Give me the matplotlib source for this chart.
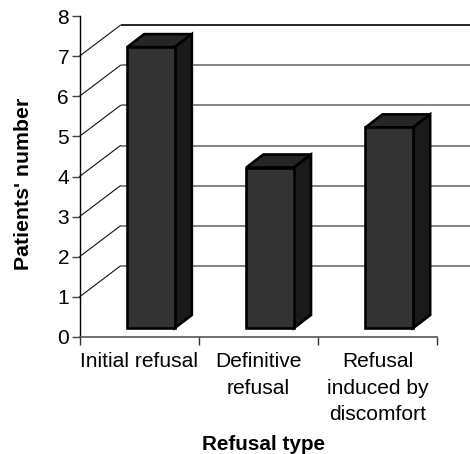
import matplotlib
matplotlib.use("Agg")
import matplotlib.pyplot as plt
from matplotlib.patches import Polygon
from matplotlib.transforms import ScaledTranslation

categories = ["Initial refusal", "Definitive\nrefusal", "Refusal\ninduced by\ndiscomfort"]
values = [7, 4, 5]
y_ticks = [0, 1, 2, 3, 4, 5, 6, 7, 8]
positions = [0.6, 1.6, 2.6]
bar_width = 0.40

W, H = 470, 454
plt.rcParams['font.family'] = ['Liberation Sans', 'DejaVu Sans']
fig = plt.figure(figsize=(W/100, H/100), dpi=100)
L, R, T, B = 79.5, 437.0, 16.0, 337.0
ax = fig.add_axes([L/W, 1-B/H, (R-L)/W, (B-T)/H])
ax.set_xlim(0, 3)
ax.set_ylim(0, 8)

def shift(dx, dy):
    return ax.transData + ScaledTranslation(dx/100, dy/100, fig.dpi_scale_trans)

# back-wall gridlines and the diagonals on the side wall
wall_dx, wall_dy = 41, 31
back = shift(wall_dx, wall_dy)
for v in y_ticks[1:8]:
    c = 'black' if v == 7 else '#707070'
    ax.plot([0, 3.2], [v, v], color=c, lw=1.2, transform=back, clip_on=False, zorder=1, solid_capstyle='butt')
    a = ax.transData.transform((0, v))
    b = back.transform((0, v))
    ax.annotate('', xy=(b[0], b[1]), xytext=(a[0], a[1]), xycoords='figure pixels', textcoords='figure pixels',
                arrowprops=dict(arrowstyle='-', color='#111111', lw=0.8, shrinkA=0, shrinkB=0), zorder=1)

# 3-D bars
depth_dx, depth_dy = 17, 13
front = shift(0, 9)
ax.bar(positions, values, bar_width, color='#333333', edgecolor='black', linewidth=1.9,
       transform=front, zorder=4)
to_data = ax.transData.inverted()
ox, oy = to_data.transform((depth_dx, depth_dy)) - to_data.transform((0, 0))
for p, v in zip(positions, values):
    x0, x1 = p - bar_width/2, p + bar_width/2
    ax.add_patch(Polygon([(x0, v), (x1, v), (x1+ox, v+oy), (x0+ox, v+oy)], closed=True,
                         facecolor='#262626', edgecolor='black', lw=1.9, joinstyle='miter', transform=front, zorder=3, clip_on=False))
    ax.add_patch(Polygon([(x1, 0), (x1+ox, oy), (x1+ox, v+oy), (x1, v)], closed=True,
                         facecolor='#1a1a1a', edgecolor='black', lw=1.9, joinstyle='miter', transform=front, zorder=3, clip_on=False))

# axes
for s in ('top', 'right'):
    ax.spines[s].set_visible(False)
ax.spines['left'].set_color('black')
ax.spines['left'].set_linewidth(1.0)
ax.spines['bottom'].set_color('#555555')
ax.spines['bottom'].set_linewidth(1.2)
ax.set_yticks(y_ticks)
ax.set_xticks([0, 1, 2, 3])
ax.set_xticklabels([])
ax.set_xticks([0.5, 1.5, 2.5], minor=True)
ax.set_xticklabels(categories, minor=True, fontsize=15.1, linespacing=1.5)
ax.tick_params(axis='x', which='minor', length=0, pad=11)
ax.tick_params(axis='x', which='major', length=5.5, width=1, color='#333333')
ax.tick_params(axis='y', length=5.5, width=1, color='#444444', labelsize=15, pad=2)
fig.text(24/W, 1-184/H, "Patients' number", rotation=90, ha='center', va='center', fontweight='bold', fontsize=15.3)
fig.text(263/W, 1-444/H, "Refusal type", ha='center', va='center', fontweight='bold', fontsize=14.9)
fig.savefig("out.png", dpi=100)
